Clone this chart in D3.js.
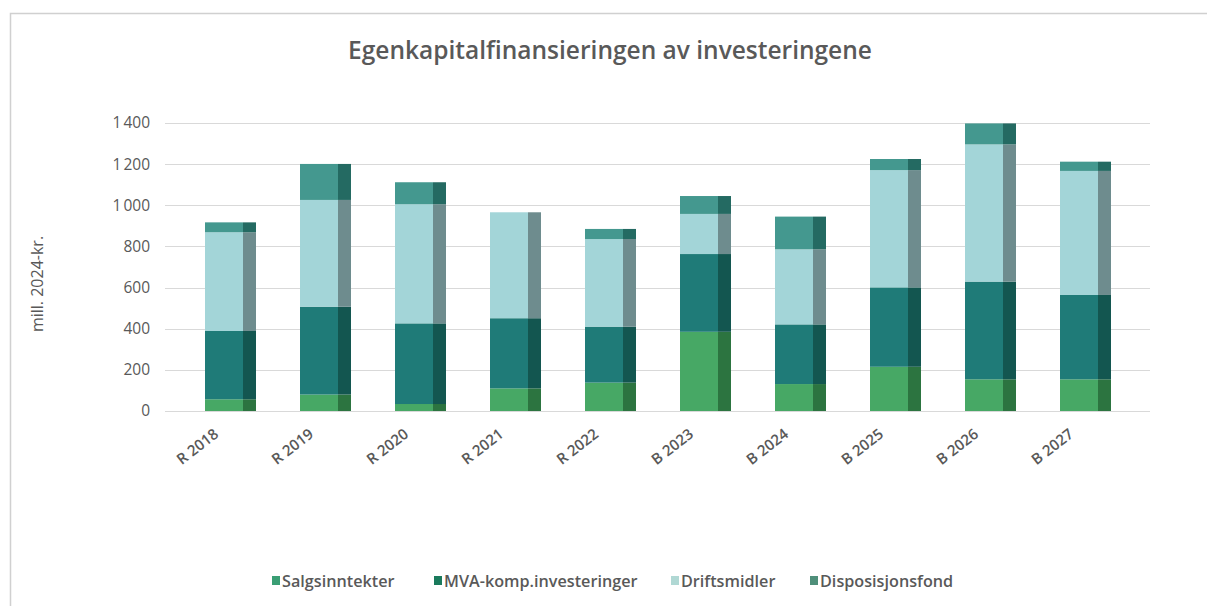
<!DOCTYPE html>
<html><head><meta charset="utf-8">
<script src="https://cdn.jsdelivr.net/npm/d3@7"></script>
<style>body{margin:0;background:#fff}svg{display:block}</style>
</head><body>
<svg id="c" width="1207" height="606"></svg>
<script>
const categories = ["R 2018","R 2019","R 2020","R 2021","R 2022","B 2023","B 2024","B 2025","B 2026","B 2027"];
const salgsinntekter = [57, 80, 34, 110, 138, 385, 131, 215, 154, 154];
const mvaKomp = [332, 427, 392, 341, 272, 378, 290, 386, 475, 410];
const driftsmidler = [480, 519, 579, 515, 426, 195, 365, 570, 667, 603];
const disposisjonsfond = [48, 175, 107, 0, 49, 87, 159, 54, 102, 45];
const seriesNames = ["Salgsinntekter","MVA-komp.investeringer","Driftsmidler","Disposisjonsfond"];
const yTicks = [0,200,400,600,800,1000,1200,1400];
const frontColors = ["#47a865","#1f7b78","#a3d5d8","#44988f"];
const sideColors = ["#2c7440","#135650","#6e8c8e","#246a62"];
const legendColors = ["#3a9e74","#1a7a5c","#b0d8d4","#4f8f7a"];

const svg = d3.select("#c");
const fmt = v => v >= 1000 ? d3.format(",")(v).replace(",", "\u202f") : String(v);

// frame
svg.append("rect").attr("x",10.5).attr("y",13.5).attr("width",1300).attr("height",700)
  .attr("fill","none").attr("stroke","#d0d0d0").attr("stroke-width",1.5);

const x = d3.scaleBand().domain(categories).range([183,1133]).padding(0);
const y = d3.scaleLinear().domain([0,1400]).range([411,123]);

// gridlines
svg.append("g").selectAll("line").data(yTicks).join("line")
  .attr("x1",165).attr("x2",1150)
  .attr("y1",d=>Math.round(y(d))+0.5).attr("y2",d=>Math.round(y(d))+0.5)
  .attr("stroke","#d9d9d9").attr("stroke-width",1.2);

// y axis labels
const yAxis = d3.axisLeft(y).tickValues(yTicks).tickSize(0).tickPadding(0).tickFormat(fmt);
const ga = svg.append("g").attr("transform","translate(150,0)").call(yAxis);
ga.select(".domain").remove();
ga.selectAll("text").attr("font-family","Open Sans, sans-serif").attr("font-size",15.5).attr("fill","#595959");

// y title
svg.append("text").attr("transform","translate(43,284) rotate(-90)")
  .attr("text-anchor","middle").attr("font-family","Open Sans, sans-serif").attr("font-size",16)
  .attr("fill","#595959").text("mill. 2024-kr.");

// title
svg.append("text").attr("x",610).attr("y",59).attr("text-anchor","middle")
  .attr("font-family","Open Sans, sans-serif").attr("font-weight",600).attr("font-size",24.5)
  .attr("fill","#595959").text("Egenkapitalfinansieringen av investeringene");

// stacked data
const rows = categories.map((c,i)=>({cat:c, s0:salgsinntekter[i], s1:mvaKomp[i], s2:driftsmidler[i], s3:disposisjonsfond[i]}));
const stack = d3.stack().keys(["s0","s1","s2","s3"]);
const stacked = stack(rows);

const totalW = 51, frontW = 38, sideW = totalW - frontW;
stacked.forEach((layer, k) => {
  const g = svg.append("g");
  layer.forEach(d => {
    const cx = x(d.data.cat) + x.bandwidth()/2;
    const x0 = cx - totalW/2;
    const yt = y(d[1]), yb = y(d[0]);
    if (yb - yt <= 0) return;
    g.append("rect").attr("x",x0).attr("y",yt).attr("width",frontW).attr("height",yb-yt).attr("fill",frontColors[k]);
    g.append("rect").attr("x",x0+frontW).attr("y",yt).attr("width",sideW).attr("height",yb-yt).attr("fill",sideColors[k]);
  });
});

// x labels
svg.append("g").selectAll("text").data(categories).join("text")
  .attr("transform", d => `translate(${x(d)+x.bandwidth()/2-18},${427}) rotate(-38)`)
  .attr("text-anchor","end").attr("dy","0.75em")
  .attr("font-family","Open Sans, sans-serif").attr("font-weight",600).attr("font-size",15)
  .attr("fill","#595959").text(d=>d);

// legend
const legX = [272, 434, 671, 810];
const lg = svg.append("g");
seriesNames.forEach((n,i)=>{
  lg.append("rect").attr("x",legX[i]).attr("y",576).attr("width",8).attr("height",9).attr("fill",legendColors[i]);
  lg.append("text").attr("x",legX[i]+10).attr("y",586.5)
    .attr("font-family","Open Sans, sans-serif").attr("font-weight",600).attr("font-size",16.2)
    .attr("fill","#595959").text(n);
});
</script>
</body></html>
